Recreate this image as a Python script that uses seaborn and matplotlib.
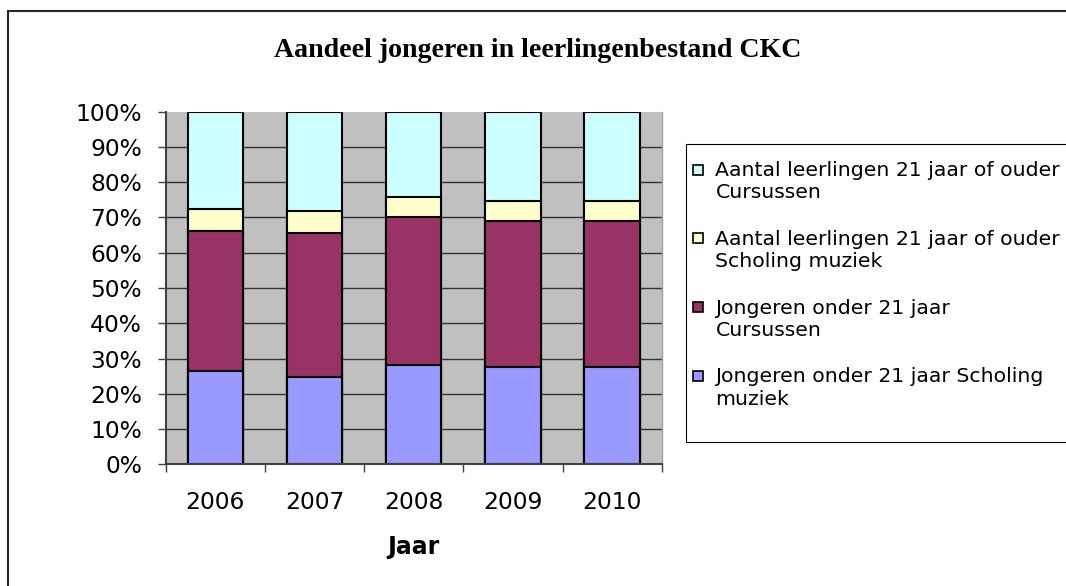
import numpy as np
import pandas as pd
import matplotlib
matplotlib.use("Agg")
import matplotlib.pyplot as plt
import matplotlib.patches as mpatches
from matplotlib.legend_handler import HandlerPatch
import seaborn as sns

# data (percent of leerlingen per year, bottom to top)
years = ["2006", "2007", "2008", "2009", "2010"]
jong_scholing = [26.5, 24.8, 28.2, 27.7, 27.7]
jong_cursus = [39.7, 40.7, 41.9, 41.2, 41.2]
oud_scholing = [6.2, 6.4, 5.8, 5.9, 5.9]
oud_cursus = [27.6, 28.1, 24.1, 25.2, 25.2]

series_labels = [
    "Jongeren onder 21 jaar Scholing\nmuziek",
    "Jongeren onder 21 jaar\nCursussen",
    "Aantal leerlingen 21 jaar of ouder\nScholing muziek",
    "Aantal leerlingen 21 jaar of ouder\nCursussen",
]
series_colors = ["#9999FF", "#993366", "#FFFFCC", "#CCFFFF"]
y_ticks = list(range(0, 101, 10))

title = "Aandeel jongeren in leerlingenbestand CKC"
x_title = "Jaar"

df = pd.DataFrame({
    "Jaar": years,
    "s1": jong_scholing,
    "s2": jong_cursus,
    "s3": oud_scholing,
    "s4": oud_cursus,
})
cols = ["s1", "s2", "s3", "s4"]
cum = df[cols].cumsum(axis=1)
cum["Jaar"] = df["Jaar"]

W, H = 1066, 586
fig = plt.figure(figsize=(W / 100, H / 100), dpi=100)
ax = fig.add_axes([165.7 / W, 1 - 464.3 / H, 496 / W, 352.6 / H])
ax.set_facecolor("#C0C0C0")

# stacked bars: draw cumulative totals from top series down
for col, color in zip(reversed(cols), reversed(series_colors)):
    sns.barplot(data=cum, x="Jaar", y=col, color=color, saturation=1,
                width=0.56, edgecolor="black", linewidth=1.5,
                errorbar=None, ax=ax)

ax.set_xlim(-0.5, len(years) - 0.5)
ax.set_ylim(0, 100)
ax.set_axisbelow(True)

ax.set_yticks(y_ticks)
ax.set_yticklabels([f"{v}%" for v in y_ticks])
ax.tick_params(axis="y", length=6, width=1, color="#404040", pad=11, labelsize=16.8)
ax.yaxis.grid(True, color="#333333", linewidth=1.0)
ax.xaxis.grid(False)
# no gridline along the top edge
ax.yaxis.get_gridlines()[-1].set_visible(False)

ax.set_xticks(np.arange(-0.5, len(years), 1.0))
ax.set_xticklabels([])
ax.set_xticks(range(len(years)), labels=years, minor=True)
ax.tick_params(axis="x", which="major", length=6, width=1, color="#404040")
ax.tick_params(axis="x", which="minor", length=0, pad=19, labelsize=16.8)

ax.set_ylabel("")
ax.set_xlabel(x_title, fontsize=17, fontweight="bold", labelpad=15)

for side in ["left", "bottom"]:
    ax.spines[side].set_color("#404040")
    ax.spines[side].set_linewidth(1.5)
ax.spines["top"].set_visible(False)
ax.spines["right"].set_color("#A0A0A0")
ax.spines["right"].set_linewidth(1.0)

fig.text(538 / W, 1 - 56.7 / H, title, ha="center", va="baseline",
         fontsize=20.1, fontweight="bold", family="Liberation Serif")

# chart border (cut off at right and bottom like the screenshot)
fig.add_artist(mpatches.Rectangle((7.5 / W, -0.1), 1.0, (H - 11) / H + 0.1,
                                  transform=fig.transFigure, fill=False,
                                  edgecolor="#262626", linewidth=1.5))

# legend box
fig.add_artist(mpatches.Rectangle((685.7 / W, 1 - 441.7 / H), 0.5, (441.7 - 144) / H,
                                  transform=fig.transFigure, fill=False,
                                  edgecolor="black", linewidth=0.8))

leg_fs = 14.7
side = 7.2


def top_square(legend, orig_handle, xdescent, ydescent, width, height, fontsize):
    # square next to the first line of a two-line label
    return mpatches.Rectangle((-xdescent, 0.95 * fontsize - side / 2), side, side)


handles = [mpatches.Patch(facecolor=c, edgecolor="black", linewidth=1.2)
           for c in reversed(series_colors)]
leg = fig.legend(handles, list(reversed(series_labels)), loc="upper left",
                 bbox_to_anchor=(683 / W, 1 - 150.4 / H), frameon=False,
                 fontsize=leg_fs, borderpad=0, handlelength=side / leg_fs,
                 handletextpad=0.6, labelspacing=1.34,
                 handler_map={mpatches.Patch: HandlerPatch(patch_func=top_square)})
for t in leg.get_texts():
    t.set_linespacing(1.24)

fig.savefig("out.png", dpi=100)
